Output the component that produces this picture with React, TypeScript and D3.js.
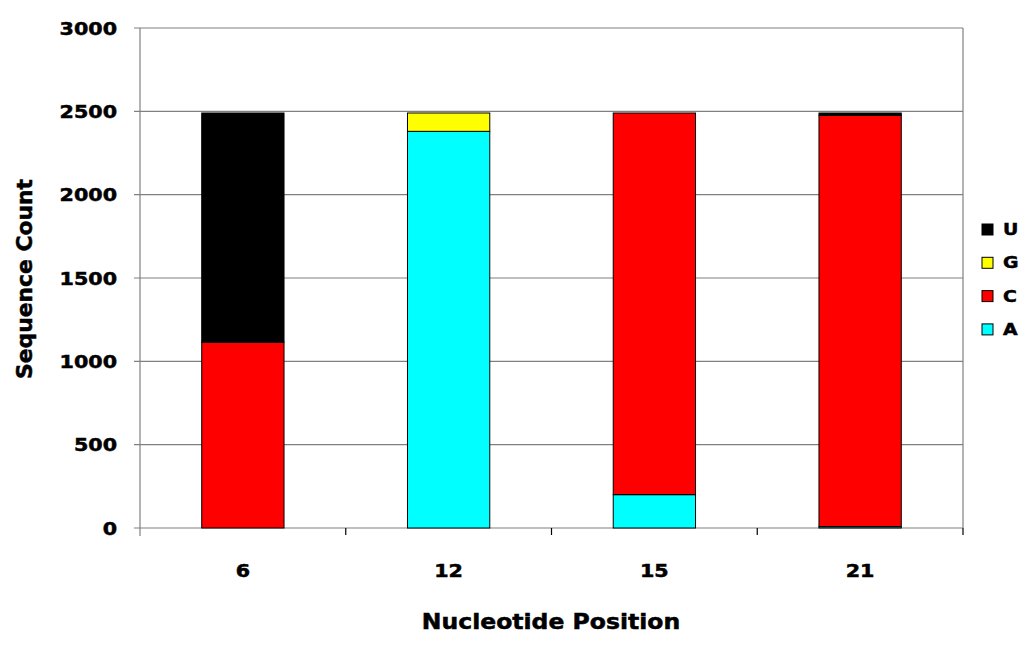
import * as d3 from 'd3'
import React from 'react'

const POSITIONS = ['6', '12', '15', '21']
const NUCLEOTIDES = ['A', 'C', 'G', 'U']
const A_COUNTS = [0, 2380, 200, 8]
const C_COUNTS = [1115, 0, 2290, 2468]
const G_COUNTS = [0, 110, 0, 0]
const U_COUNTS = [1375, 0, 0, 14]
const Y_TICKS = [0, 500, 1000, 1500, 2000, 2500, 3000]

const COLORS = { A: '#00ffff', C: '#ff0000', G: '#ffff00', U: '#000000' }

const W = 1024
const H = 648
const M = { left: 140, top: 28, right: 963, bottom: 528 }
const FONT = '"DejaVu Sans", Verdana, sans-serif'

// heavy, wide text to mimic the Arial Black look of the original
const Heavy = ({ x, y, size, sx = 1.18, anchor = 'start', rotate = 0, children }: any) => (
  <text
    transform={`translate(${x},${y}) rotate(${rotate}) scale(${sx},1)`}
    textAnchor={anchor}
    fontFamily={FONT}
    fontWeight="bold"
    fontSize={size}
    stroke="#000"
    strokeWidth={0.5}
  >
    {children}
  </text>
)

export default function App() {
  const rows = POSITIONS.map((p, i) => ({
    pos: p,
    A: A_COUNTS[i],
    C: C_COUNTS[i],
    G: G_COUNTS[i],
    U: U_COUNTS[i],
  }))
  const stack = d3.stack().keys(NUCLEOTIDES)(rows as any)

  const x = d3.scaleBand().domain(POSITIONS).range([M.left, M.right])
  const y = d3.scaleLinear().domain([0, 3000]).range([M.bottom, M.top])
  const barW = x.bandwidth() * 0.4
  const boundaries = POSITIONS.map(p => x(p) as number).concat([M.right])

  return (
    <svg width={W} height={H} style={{ position: 'absolute', left: 0, top: 0, background: '#fff' }}>
      {/* grid */}
      {Y_TICKS.map(t => (
        <line key={t} x1={M.left - 6} x2={M.right} y1={y(t)} y2={y(t)} stroke="#808080" strokeWidth={1.2} />
      ))}
      <line x1={M.left} x2={M.left} y1={M.top} y2={M.bottom + 8} stroke="#808080" strokeWidth={1.2} />
      <line x1={M.right} x2={M.right} y1={M.top} y2={M.bottom} stroke="#808080" strokeWidth={1.2} />
      {boundaries.slice(1).map((b, i) => (
        <line key={i} x1={b} x2={b} y1={M.bottom} y2={M.bottom + 7} stroke="#000" strokeWidth={1.2} />
      ))}

      {/* bars */}
      {stack.map(layer =>
        layer.map((d, i) => {
          const h = y(d[0]) - y(d[1])
          if (h <= 0) return null
          const cx = (x(POSITIONS[i]) as number) + x.bandwidth() / 2
          return (
            <rect
              key={layer.key + i}
              x={cx - barW / 2}
              y={y(d[1])}
              width={barW}
              height={h}
              fill={COLORS[layer.key as keyof typeof COLORS]}
              stroke="#000"
              strokeWidth={1}
            />
          )
        })
      )}

      {/* y tick labels */}
      {Y_TICKS.map(t => (
        <Heavy key={t} x={117} y={y(t) + 6.5} size={17.5} anchor="end">
          {t}
        </Heavy>
      ))}
      {/* x tick labels */}
      {POSITIONS.map(p => (
        <Heavy key={p} x={(x(p) as number) + x.bandwidth() / 2} y={577} size={17.5} anchor="middle">
          {p}
        </Heavy>
      ))}

      {/* axis titles */}
      <Heavy x={551} y={629} size={21} sx={1.12} anchor="middle">
        Nucleotide Position
      </Heavy>
      <Heavy x={32} y={279} size={21} sx={1.04} anchor="middle" rotate={-90}>
        Sequence Count
      </Heavy>

      {/* legend */}
      {NUCLEOTIDES.slice()
        .reverse()
        .map((k, i) => (
          <g key={k} transform={`translate(982,${229 + i * 33.3})`}>
            <rect x={0} y={-5} width={11} height={11} fill={COLORS[k as keyof typeof COLORS]} stroke="#000" strokeWidth={1} />
            <Heavy x={21} y={6} size={16}>
              {k}
            </Heavy>
          </g>
        ))}
    </svg>
  )
}
